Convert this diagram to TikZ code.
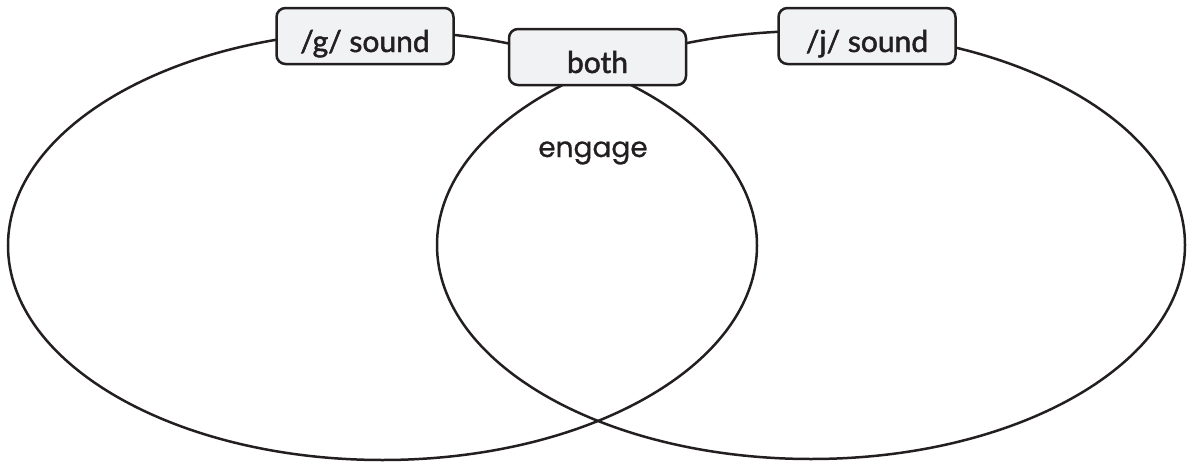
\documentclass[tikz,border=0pt]{standalone}
\usepackage{fontspec}
\setmainfont{Lato}
\newfontfamily\tagfont{Lato}[FakeBold=1.6]
\newfontfamily\handfont{Poppins}[FakeBold=0.6]
\definecolor{ink}{HTML}{231F20}
\definecolor{boxfill}{HTML}{F1F2F4}
\tikzset{
  ring/.style={draw=ink, line width=2.5pt},
  tag/.style={draw=ink, fill=boxfill, line width=2.5pt, rounded corners=9pt,
    minimum width=177pt, minimum height=56pt, inner sep=0pt,
    text height=22pt, text depth=6pt,
    font=\tagfont\fontsize{30}{34}\selectfont, text=ink},
  word/.style={font=\handfont\fontsize{28}{32}\selectfont, text=ink}
}
\begin{document}
\begin{tikzpicture}[x=1pt,y=-1pt]
  \useasboundingbox (0,0) rectangle (1189,463);
  \draw[ring] (382.5,245.5) ellipse [x radius=374.5, y radius=214.5];
  \draw[ring] (811,245) ellipse [x radius=374, y radius=214];
  \node[tag] (g) at (365,36) {\raisebox{-8pt}{/g/ sound}};
  \node[tag] (both) at (597.5,57) {\raisebox{-8pt}{both}};
  \node[tag] (j) at (867,36) {\raisebox{-8pt}{/j/ sound}};
  \node[word, anchor=base] (engage) at (593,157) {engage};
\end{tikzpicture}
\end{document}
